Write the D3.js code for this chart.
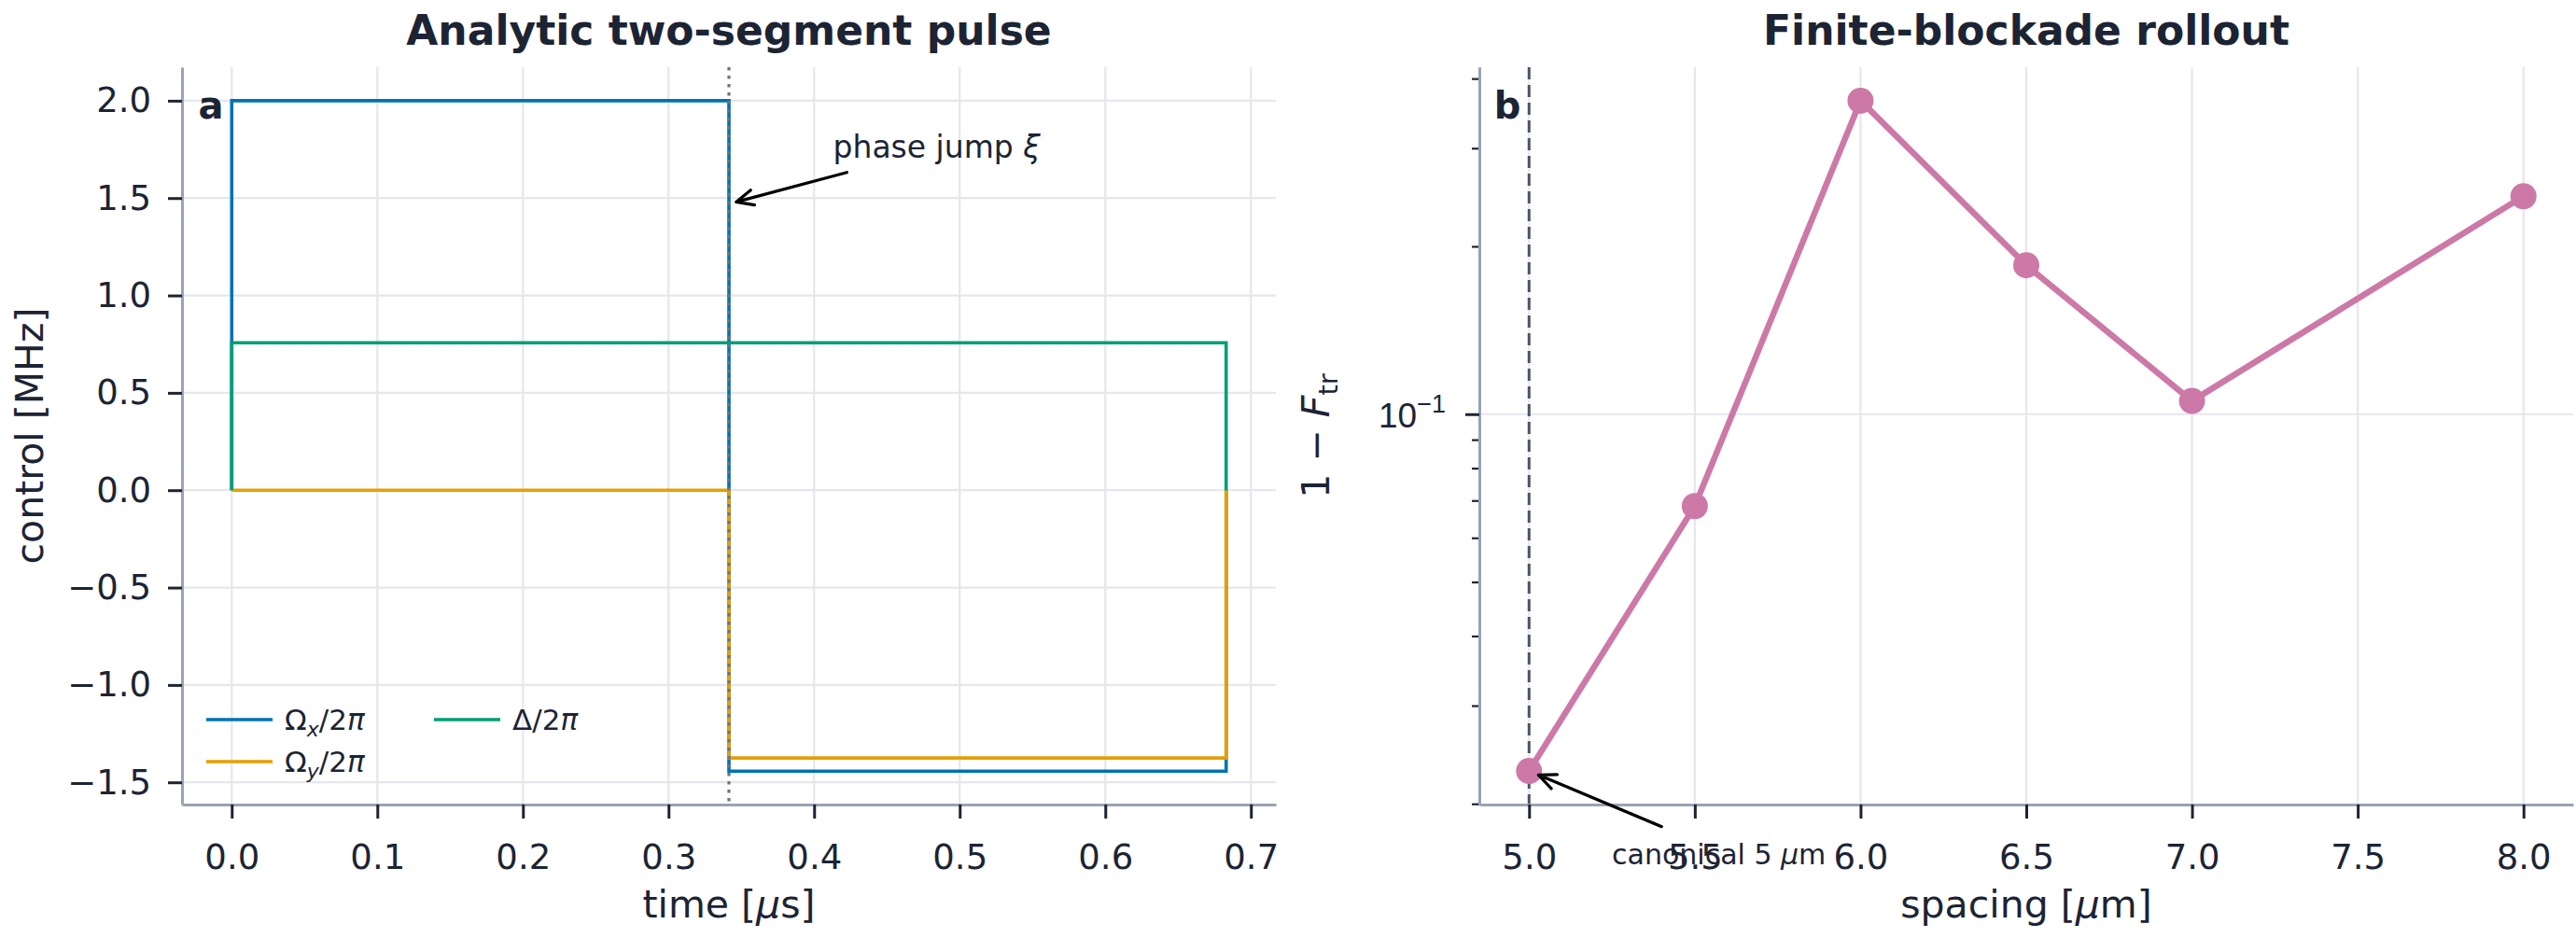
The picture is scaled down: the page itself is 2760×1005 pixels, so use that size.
<!DOCTYPE html>
<html>
<head>
<meta charset="utf-8">
<script src="https://cdn.jsdelivr.net/npm/d3@7"></script>
<style>
  body { margin: 0; background: #fff; }
  svg { display: block; font-family: "DejaVu Sans", sans-serif; }
</style>
</head>
<body>
<div id="chart"></div>
<script>
// panel a: two-segment pulse (piecewise constant, padded with zeros)
const pulseTimes = [0, 0, 0.3415, 0.3415, 0.683, 0.683];
const omegaX = [0, 2.0, 2.0, -1.443, -1.443, 0];
const omegaY = [0, 0, 0, -1.375, -1.375, 0];
const detuning = [0, 0.757, 0.757, 0.757, 0.757, 0];
const phaseJumpTime = 0.3415;
const timeTicks = [0, 0.1, 0.2, 0.3, 0.4, 0.5, 0.6, 0.7];
const controlTicks = [-1.5, -1.0, -0.5, 0, 0.5, 1.0, 1.5, 2.0];

// panel b: finite-blockade rollout
const spacings = [5.0, 5.5, 6.0, 6.5, 7.0, 8.0];
const infidelity = [0.0229, 0.0684, 0.365, 0.185, 0.1056, 0.246];
const spacingTicks = [5.0, 5.5, 6.0, 6.5, 7.0, 7.5, 8.0];
const canonicalSpacing = 5.0;

const W = 2760, H = 1005;
const ink = "#1c2434", spineCol = "#9aa3b5", gridCol = "#e6e7ed";
const colors = { x: "#0072B2", y: "#E69F00", d: "#009E73", b: "#CC79A7" };
const tickFont = 37, labelFont = 41, titleFont = 44;

const svg = d3.select("#chart").append("svg")
  .attr("width", W).attr("height", H)
  .attr("viewBox", `0 0 ${W} ${H}`);

const plotTop = 72, plotBottom = 862;

// arrow helper ("->" style)
function arrow(g, x1, y1, x2, y2, shrink) {
  const dx = x2 - x1, dy = y2 - y1, len = Math.hypot(dx, dy);
  const ux = dx / len, uy = dy / len;
  const tx = x2 - ux * shrink, ty = y2 - uy * shrink;
  const hl = 20, ang = 0.42;
  const c = Math.cos(ang), s = Math.sin(ang);
  const h1 = [tx - hl * (ux * c - uy * s), ty - hl * (uy * c + ux * s)];
  const h2 = [tx - hl * (ux * c + uy * s), ty - hl * (uy * c - ux * s)];
  g.append("path")
    .attr("d", `M${x1},${y1}L${tx},${ty}M${h1[0]},${h1[1]}L${tx},${ty}L${h2[0]},${h2[1]}`)
    .attr("fill", "none").attr("stroke", "#000").attr("stroke-width", 3.2)
    .attr("stroke-linecap", "round").attr("stroke-linejoin", "round");
}

function styleAxis(ax) {
  ax.select(".domain").attr("stroke", spineCol).attr("stroke-width", 3);
  ax.selectAll(".tick line").attr("stroke", ink).attr("stroke-width", 3);
  ax.selectAll(".tick text").attr("fill", ink).attr("font-size", tickFont)
    .attr("font-family", "DejaVu Sans");
}

// ---------------- panel a ----------------
const xa = d3.scaleLinear().domain([-0.03415, 0.71715]).range([195, 1367]);
const ya = d3.scaleLinear().domain([-1.614, 2.172]).range([plotBottom, plotTop]);
const ga = svg.append("g");

ga.append("g").selectAll("line").data(timeTicks).join("line")
  .attr("x1", d => xa(d)).attr("x2", d => xa(d)).attr("y1", plotTop).attr("y2", plotBottom)
  .attr("stroke", gridCol).attr("stroke-width", 2.2);
ga.append("g").selectAll("line").data(controlTicks).join("line")
  .attr("x1", xa.range()[0]).attr("x2", xa.range()[1]).attr("y1", d => ya(d)).attr("y2", d => ya(d))
  .attr("stroke", gridCol).attr("stroke-width", 2.2);

const stepLine = d3.line().x(d => xa(d[0])).y(d => ya(d[1]));
const pulseSeries = [
  { key: "x", vals: omegaX },
  { key: "y", vals: omegaY },
  { key: "d", vals: detuning }
];
pulseSeries.forEach(s => {
  ga.append("path")
    .datum(pulseTimes.map((t, i) => [t, s.vals[i]]))
    .attr("d", stepLine).attr("fill", "none")
    .attr("stroke", colors[s.key]).attr("stroke-width", 3.6);
});

ga.append("line")
  .attr("x1", xa(phaseJumpTime)).attr("x2", xa(phaseJumpTime))
  .attr("y1", plotTop).attr("y2", plotBottom)
  .attr("stroke", "#6b7280").attr("stroke-width", 3.2).attr("stroke-dasharray", "3.5,5.5");

const axA = ga.append("g").attr("transform", `translate(0,${plotBottom})`)
  .call(d3.axisBottom(xa).tickValues(timeTicks).tickFormat(d3.format(".1f"))
    .tickSize(15).tickSizeOuter(0).tickPadding(28));
styleAxis(axA);
const ayA = ga.append("g").attr("transform", `translate(${xa.range()[0]},0)`)
  .call(d3.axisLeft(ya).tickValues(controlTicks).tickFormat(d3.format(".1f"))
    .tickSize(15).tickSizeOuter(0).tickPadding(18));
styleAxis(ayA);

// annotation
const phaseText = ga.append("text").attr("x", xa(0.413)).attr("y", ya(1.708))
  .attr("font-size", 33).attr("fill", ink);
phaseText.append("tspan").text("phase jump ");
phaseText.append("tspan").attr("font-style", "italic").text("ξ");
arrow(ga, xa(0.4225), ya(1.632), xa(phaseJumpTime), ya(1.47), 8);

// legend
const legendItems = [
  { key: "x", sub: "x", col: 0, row: 0 },
  { key: "y", sub: "y", col: 0, row: 1 },
  { key: "d", sub: null, col: 1, row: 0 }
];
const lg = ga.append("g");
legendItems.forEach(it => {
  const lx = 221 + it.col * 244, ly = 771 + it.row * 45;
  lg.append("line").attr("x1", lx).attr("x2", lx + 71).attr("y1", ly).attr("y2", ly)
    .attr("stroke", colors[it.key]).attr("stroke-width", 3.6);
  const t = lg.append("text").attr("x", lx + 84).attr("y", ly + 11)
    .attr("font-size", 31).attr("fill", ink);
  if (it.sub) {
    t.append("tspan").text("Ω");
    t.append("tspan").attr("font-style", "italic").attr("font-size", 22).attr("dy", 7).text(it.sub);
    t.append("tspan").attr("dy", -7).text("/2");
  } else {
    t.append("tspan").text("Δ/2");
  }
  t.append("tspan").attr("font-style", "italic").text("π");
});

// labels
ga.append("text").attr("x", 226).attr("y", 127).attr("text-anchor", "middle")
  .attr("font-size", 40).attr("font-weight", "bold").attr("fill", ink).text("a");
ga.append("text").attr("x", (xa.range()[0] + xa.range()[1]) / 2).attr("y", 48)
  .attr("text-anchor", "middle").attr("font-size", titleFont).attr("font-weight", "bold")
  .attr("fill", ink).text("Analytic two-segment pulse");
const xlA = ga.append("text").attr("x", (xa.range()[0] + xa.range()[1]) / 2).attr("y", 983)
  .attr("text-anchor", "middle").attr("font-size", labelFont).attr("fill", ink);
xlA.append("tspan").text("time [");
xlA.append("tspan").attr("font-style", "italic").text("μ");
xlA.append("tspan").text("s]");
ga.append("text").attr("transform", `translate(46,${(plotTop + plotBottom) / 2}) rotate(-90)`)
  .attr("text-anchor", "middle").attr("font-size", labelFont).attr("fill", ink)
  .text("control [MHz]");

// ---------------- panel b ----------------
const logLo = Math.log10(d3.min(infidelity)), logHi = Math.log10(d3.max(infidelity));
const pad = 0.05 * (logHi - logLo);
const xb = d3.scaleLinear().domain([4.85, 8.15]).range([1585, 2757]);
const yb = d3.scaleLog().domain([10 ** (logLo - pad), 10 ** (logHi + pad)]).range([plotBottom, plotTop]);
const gb = svg.append("g");

gb.append("g").selectAll("line").data(spacingTicks).join("line")
  .attr("x1", d => xb(d)).attr("x2", d => xb(d)).attr("y1", plotTop).attr("y2", plotBottom)
  .attr("stroke", gridCol).attr("stroke-width", 2.2);
gb.append("line").attr("x1", xb.range()[0]).attr("x2", xb.range()[1])
  .attr("y1", yb(0.1)).attr("y2", yb(0.1)).attr("stroke", gridCol).attr("stroke-width", 2.2);

gb.append("line").attr("x1", xb(canonicalSpacing)).attr("x2", xb(canonicalSpacing))
  .attr("y1", plotTop).attr("y2", plotBottom)
  .attr("stroke", "#4b5568").attr("stroke-width", 3).attr("stroke-dasharray", "13,6");

const rollout = spacings.map((s, i) => [s, infidelity[i]]);
gb.append("path").datum(rollout)
  .attr("d", d3.line().x(d => xb(d[0])).y(d => yb(d[1])))
  .attr("fill", "none").attr("stroke", colors.b).attr("stroke-width", 6.5)
  .attr("stroke-linejoin", "round");
gb.append("g").selectAll("circle").data(rollout).join("circle")
  .attr("cx", d => xb(d[0])).attr("cy", d => yb(d[1])).attr("r", 14)
  .attr("fill", colors.b);

const axB = gb.append("g").attr("transform", `translate(0,${plotBottom})`)
  .call(d3.axisBottom(xb).tickValues(spacingTicks).tickFormat(d3.format(".1f"))
    .tickSize(15).tickSizeOuter(0).tickPadding(28));
styleAxis(axB);

const minorTicks = [0.02, 0.03, 0.04, 0.05, 0.06, 0.07, 0.08, 0.09, 0.2, 0.3, 0.4]
  .filter(v => v >= yb.domain()[0] && v <= yb.domain()[1]);
const ayBminor = gb.append("g").attr("transform", `translate(${xb.range()[0]},0)`)
  .call(d3.axisLeft(yb).tickValues(minorTicks).tickFormat("").tickSize(8).tickSizeOuter(0));
styleAxis(ayBminor);
ayBminor.selectAll(".tick line").attr("stroke-width", 2.2);
const ayB = gb.append("g").attr("transform", `translate(${xb.range()[0]},0)`)
  .call(d3.axisLeft(yb).tickValues([0.1]).tickFormat(() => "").tickSize(15).tickSizeOuter(0));
styleAxis(ayB);
ayB.selectAll(".tick").each(function() {
  const t = d3.select(this).append("text").attr("x", -36).attr("dy", "0.36em")
    .attr("text-anchor", "end").attr("fill", ink).attr("font-size", tickFont);
  t.append("tspan").text("10");
  t.append("tspan").attr("dy", -16).attr("font-size", 27).text("−1");
});

// annotation
const canText = gb.append("text").attr("x", xb(5.25)).attr("y", 926)
  .attr("font-size", 30).attr("fill", ink);
canText.append("tspan").text("canonical 5 ");
canText.append("tspan").attr("font-style", "italic").text("μ");
canText.append("tspan").text("m");
arrow(gb, xb(5.40), yb(0.0182), xb(canonicalSpacing), yb(infidelity[0]), 11);

gb.append("text").attr("x", 1615).attr("y", 127).attr("text-anchor", "middle")
  .attr("font-size", 40).attr("font-weight", "bold").attr("fill", ink).text("b");
gb.append("text").attr("x", (xb.range()[0] + xb.range()[1]) / 2).attr("y", 48)
  .attr("text-anchor", "middle").attr("font-size", titleFont).attr("font-weight", "bold")
  .attr("fill", ink).text("Finite-blockade rollout");
const xlB = gb.append("text").attr("x", (xb.range()[0] + xb.range()[1]) / 2).attr("y", 983)
  .attr("text-anchor", "middle").attr("font-size", labelFont).attr("fill", ink);
xlB.append("tspan").text("spacing [");
xlB.append("tspan").attr("font-style", "italic").text("μ");
xlB.append("tspan").text("m]");
const ylB = gb.append("text").attr("transform", `translate(1424,${(plotTop + plotBottom) / 2}) rotate(-90)`)
  .attr("text-anchor", "middle").attr("font-size", labelFont).attr("fill", ink);
ylB.append("tspan").text("1 − ");
ylB.append("tspan").attr("font-style", "italic").text("F");
ylB.append("tspan").attr("font-size", 29).attr("dy", 9).text("tr");
</script>
</body>
</html>
